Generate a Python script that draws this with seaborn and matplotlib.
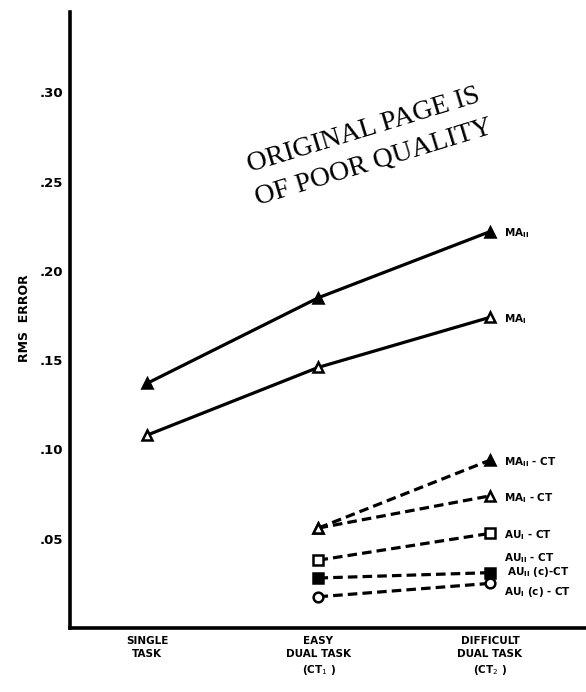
import matplotlib
matplotlib.use("Agg")
import matplotlib.pyplot as plt
import seaborn as sns
import pandas as pd

# ---- data ----
conditions = ["SINGLE\nTASK", "EASY\nDUAL TASK\n(CT$_{1}$ )", "DIFFICULT\nDUAL TASK\n(CT$_{2}$ )"]
cond_pos = [0, 1, 2]
ytick_vals = [0.05, 0.10, 0.15, 0.20, 0.25, 0.30]
ytick_labels = [".05", ".10", ".15", ".20", ".25", ".30"]

ma2 = [0.137, 0.185, 0.222]
ma1 = [0.108, 0.146, 0.174]
ma2_ct = [0.056, 0.094]
ma1_ct = [0.056, 0.074]
au1_ct = [0.038, 0.053]
au2c_ct = [0.028, 0.031]
au1c_ct = [0.0175, 0.025]

sns.set_theme(style="white")
plt.rcParams['font.family'] = ['DejaVu Sans']
plt.rcParams.update({"text.color": "black", "axes.labelcolor": "black",
                     "xtick.color": "black", "ytick.color": "black"})

fig = plt.figure(figsize=(5.86, 6.92), dpi=100)
ax = fig.add_axes([70/586, 1 - 628/692, 1 - 70/586, (628 - 12)/692])

series = [
    # name, x, y, marker, filled, dashed
    ("MA2", cond_pos, ma2, "^", True, False),
    ("MA1", cond_pos, ma1, "^", False, False),
    ("MA2CT", cond_pos[1:], ma2_ct, "^", True, True),
    ("MA1CT", cond_pos[1:], ma1_ct, "^", False, True),
    ("AU1CT", cond_pos[1:], au1_ct, "s", False, True),
    ("AU2cCT", cond_pos[1:], au2c_ct, "s", True, True),
    ("AU1cCT", cond_pos[1:], au1c_ct, "o", False, True),
]

for name, xs, ys, mk, filled, dashed in series:
    df = pd.DataFrame({"x": xs, "y": ys})
    sns.lineplot(data=df, x="x", y="y", ax=ax, color="black",
                 linewidth=2.3, marker=mk, markersize=7,
                 markerfacecolor="black" if filled else "white",
                 markeredgecolor="black", markeredgewidth=1.8,
                 linestyle=(0, (3.0, 1.6)) if dashed else "-")

# labels beside the difficult-task points
lab_kw = dict(fontsize=7.5, fontweight="bold", va="center", ha="left", color="black")
lx = 2.08
ax.text(lx, ma2[2] - 0.001, r"MA$_{\mathbf{II}}$", **lab_kw)
ax.text(lx, ma1[2] - 0.001, r"MA$_{\mathbf{I}}$", **lab_kw)
ax.text(lx, ma2_ct[1] - 0.001, r"MA$_{\mathbf{II}}$ - CT", **lab_kw)
ax.text(lx, ma1_ct[1] - 0.001, r"MA$_{\mathbf{I}}$ - CT", **lab_kw)
ax.text(lx, au1_ct[1] - 0.001, r"AU$_{\mathbf{I}}$ - CT", **lab_kw)
ax.text(lx, 0.039, r"AU$_{\mathbf{II}}$ - CT", **lab_kw)
ax.text(lx + 0.02, 0.0315, r"AU$_{\mathbf{II}}$ (c)-CT", **lab_kw)
ax.text(lx, 0.020, r"AU$_{\mathbf{I}}$ (c) - CT", **lab_kw)

ax.set_xlim(-0.449, 2.56)
ax.set_ylim(0, 0.345)
ax.set_xticks(cond_pos)
ax.set_xticklabels(conditions, fontsize=7.5, fontweight="bold", linespacing=1.35)
ax.set_yticks(ytick_vals)
ax.set_yticklabels(ytick_labels, fontsize=9.5, fontweight="bold")
ax.set_xlabel("")
ax.set_ylabel("")
ax.tick_params(axis="both", direction="in", length=4, width=1.5, color="black",
               labelcolor="black")
ax.tick_params(axis="y", pad=5)
ax.tick_params(axis="x", pad=6)
for s in ["top", "right"]:
    ax.spines[s].set_visible(False)
for s in ["left", "bottom"]:
    ax.spines[s].set_linewidth(2.6)
    ax.spines[s].set_color("black")
ax.set_facecolor("white")

fig.text(25/586, 1 - 318/692, "RMS  ERROR", rotation=90, fontsize=9,
         fontweight="bold", ha="center", va="center", color="black")

# stamp
fig.text(364/586, 1 - 130/692, "ORIGINAL PAGE IS", rotation=17,
         rotation_mode="anchor", ha="center", va="center",
         fontsize=20, family="Liberation Serif", color="black")
fig.text(374/586, 1 - 163/692, "OF POOR QUALITY", rotation=17,
         rotation_mode="anchor", ha="center", va="center",
         fontsize=20, family="Liberation Serif", color="black")

fig.savefig("out.png", dpi=100, facecolor="white")
